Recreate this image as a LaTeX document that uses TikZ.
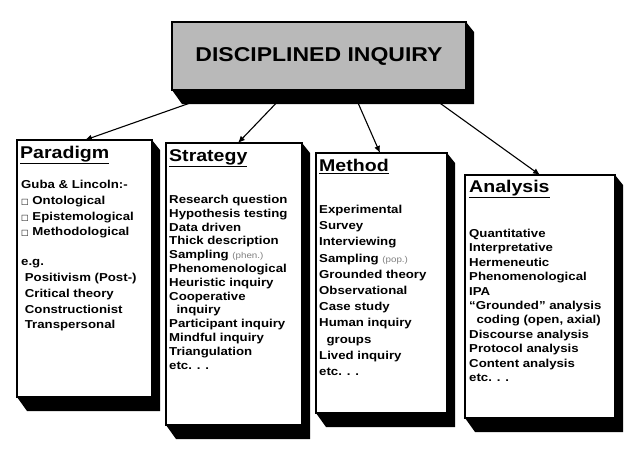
\documentclass[tikz,border=0pt]{standalone}
\usepackage{fontspec}
\setmainfont{Liberation Sans}[FakeStretch=1.15]
\newfontfamily\djv{DejaVu Sans}
\usetikzlibrary{arrows.meta}
\newcommand{\sqb}{{\djv\fontsize{8}{8}\selectfont □}}
\newcommand{\gr}[1]{{\color{gray}\fontsize{8.5}{8}\selectfont\mdseries #1}}
\newcommand{\ttl}[1]{\underline{\fontsize{17}{18}\selectfont\bfseries #1}}
\tikzset{
 x=1pt,y=-1pt,
 body/.style={anchor=north west,inner sep=0pt,align=left,font=\bfseries\fontsize{11.5}{#1}\selectfont},
 head/.style={anchor=north west,inner sep=0pt},
 arr/.style={-{Latex[length=7pt,width=6pt]},line width=1.1pt}
}
\newcommand{\tbox}[5]{%
 \fill[black] (#3,#2) -- (#3+8,#2+10) -- (#3+8,#5+14) -- (#1+10,#5+14) -- (#1,#5) -- cycle;
 \draw[line width=1.2pt,fill=#4] (#1,#2) rectangle (#3,#5);}
\begin{document}
\begin{tikzpicture}
\fill[white] (0,0) rectangle (640,453);
\tbox{172}{22}{466}{gray!55}{90}
\node[font=\bfseries\fontsize{20}{20}\selectfont] (top) at (319,56) {DISCIPLINED INQUIRY};
\coordinate (t1) at (210,96);\coordinate (t2) at (283,96);\coordinate (t3) at (355,96);\coordinate (t4) at (430,96);
\tbox{17}{140}{152}{white}{397}
\tbox{166}{143}{302}{white}{425}
\tbox{316}{153}{447}{white}{413}
\tbox{465}{175}{615}{white}{418}
\coordinate (p) at (85,140);\coordinate (s) at (238,143);\coordinate (m) at (380,153);\coordinate (a) at (540,175);
\draw[arr] (t1) -- (p);\draw[arr] (t2) -- (s);\draw[arr] (t3) -- (m);\draw[arr] (t4) -- (a);
\node[head] (ph) at (20,146) {\ttl{Paradigm}};
\node[body=15.8] (pb) at (21,180) {Guba \& Lincoln:-\\ \sqb\ Ontological\\ \sqb\ Epistemological\\ \sqb\ Methodological\\[14pt] e.g.\\ \ Positivism (Post-)\\ \ Critical theory\\ \ Constructionist\\ \ Transpersonal};
\node[head] (sh) at (169,149) {\ttl{Strategy}};
\node[body=13.8] (sb) at (169,195) {Research question\\ Hypothesis testing\\ Data driven\\ Thick description\\ Sampling \gr{(phen.)}\\ Phenomenological\\ Heuristic inquiry\\ Cooperative\\ \ \ inquiry\\ Participant inquiry\\ Mindful inquiry\\ Triangulation\\ etc. . .};
\node[head] (mh) at (319,159) {\ttl{Method}};
\node[body=16.2] (mb) at (319,205) {Experimental\\ Survey\\ Interviewing\\ Sampling \gr{(pop.)}\\ Grounded theory\\ Observational\\ Case study\\ Human inquiry\\ \ \ groups\\ Lived inquiry\\ etc. . .};
\node[head] (ah) at (469,180) {\ttl{Analysis}};
\node[body=14.4] (ab) at (469,229) {Quantitative\\ Interpretative\\ Hermeneutic\\ Phenomenological\\ IPA\\ ``Grounded'' analysis\\ \ \ coding (open, axial)\\ Discourse analysis\\ Protocol analysis\\ Content analysis\\ etc. . .};
\end{tikzpicture}
\end{document}
